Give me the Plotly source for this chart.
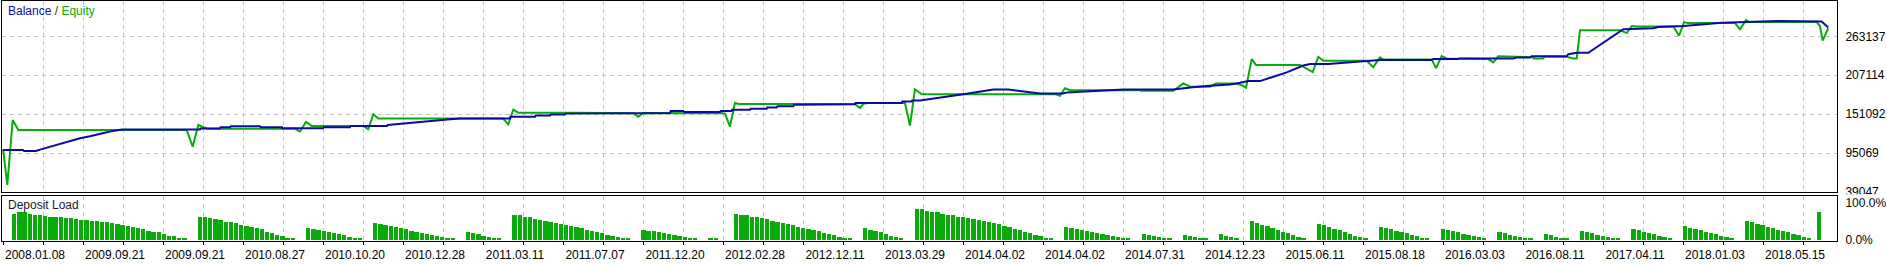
import plotly.graph_objects as go

# ---------------- data ----------------
date_labels = ["2008.01.08", "2009.09.21", "2009.09.21", "2010.08.27", "2010.10.20",
               "2010.12.28", "2011.03.11", "2011.07.07", "2011.12.20", "2012.02.28",
               "2012.12.11", "2013.03.29", "2014.04.02", "2014.04.02", "2014.07.31",
               "2014.12.23", "2015.06.11", "2015.08.18", "2016.03.03", "2016.08.11",
               "2017.04.11", "2018.01.03", "2018.05.15"]
y_ticks = [39047, 95069, 151092, 207114, 263137]

balance_x = [-2.25, 1.69, 1.9, 4.21, 4.98, 6.92, 8.86, 10.80, 12.74, 14.68, 16.62, 18.56, 20.88,
             36.01, 36.1, 39.88, 40.0, 41.83, 42.0, 47.64, 47.8, 51.91, 52.0, 59.86, 60.0, 65.10,
             65.2, 72.27, 72.4, 74.79, 77.31, 81.19, 84.0, 86.43, 96.12, 96.2, 100.97, 101.1,
             103.88, 104.0, 106.78, 106.9, 108.72, 108.8, 127.15, 127.3, 129.73, 129.9, 136.84,
             137.0, 139.11, 139.2, 142.66, 142.8, 145.90, 146.0, 147.84, 148.0, 151.06, 151.2,
             153.66, 153.8, 163.02, 163.1, 172.07, 172.2, 174.01, 174.1, 175.62, 184.02, 186.93,
             189.84, 192.74, 194.37, 196.95, 198.89, 203.35, 204.07, 207.29, 209.89, 212.80,
             215.05, 224.74, 226.04, 228.95, 231.86, 235.74, 237.68, 239.29, 241.56, 243.50,
             246.74, 249.95, 251.25, 254.80, 258.04, 261.91, 264.82, 274.85, 275.16, 280.01,
             280.34, 290.67, 291.33, 293.91, 294.24, 301.03, 301.34, 302.97, 305.22, 312.01,
             317.83, 318.80, 323.65, 328.81, 331.08, 342.05, 346.90, 350.47, 351.74]
balance_y = [99691, 99691, 98291, 98291, 100111, 104313, 107674, 111876, 116498, 119299, 123081,
             126302, 129103, 129103, 130504, 130504, 132324, 132324, 133725, 133725, 132324,
             132324, 130924, 130924, 132324, 132324, 134285, 134285, 135686, 137506, 139327,
             141708, 143529, 144929, 144929, 147310, 147310, 149131, 149131, 150532, 150532,
             151932, 151932, 152913, 152913, 155714, 155714, 154313, 154313, 155714, 155714,
             157534, 157534, 158935, 158935, 160896, 160896, 162716, 162716, 164537, 164537,
             165518, 165518, 167338, 167338, 169299, 169299, 170700, 170700, 179943, 183305,
             186526, 186526, 184705, 182744, 180924, 180924, 182324, 183305, 184145, 185125,
             186526, 186526, 187927, 190307, 192128, 193949, 196330, 198711, 198711, 203753,
             211316, 221120, 223361, 223361, 225321, 227562, 228963, 228963, 230363, 230363,
             231344, 231344, 232744, 232744, 234565, 234565, 237366, 239327, 239327, 273361,
             274761, 276582, 277983, 281344, 282744, 284985, 284145, 284565, 275742]

equity_x = [-2.25, -2.13, -1.36, -0.83, -0.31, 0.78, 33.43, 34.59, 35.68, 36.65, 37.5, 54.43,
            55.40, 56.56, 57.67, 67.62, 68.64, 69.61, 70.58, 94.77, 95.79, 96.76, 97.73, 108.72,
            119.97, 121.00, 121.97, 137.43, 137.81, 138.78, 139.75, 140.5, 163.02, 163.99,
            164.63, 165.5, 172.71, 173.68, 174.65, 175.49, 176.0, 201.80, 202.77, 203.74,
            204.71, 218.29, 218.5, 224.74, 226.68, 227.98, 231.86, 233.0, 236.5, 237.68, 238.84,
            239.95, 240.78, 249.32, 251.77, 252.86, 253.83, 262.24, 263.52, 264.82, 265.46,
            274.85, 275.68, 276.79, 277.76, 285.83, 286.79, 287.76, 294.55, 294.6, 296.5, 296.6,
            301.03, 302.31, 302.97, 303.61, 311.37, 312.67, 313.64, 314.5, 321.71, 322.81,
            323.78, 324.5, 333.66, 334.63, 335.79, 336.5, 349.50, 350.14, 350.66, 351.74]
equity_y = [99691, 98291, 49271, 101092, 142688, 128400, 128400, 104313, 135686, 132324, 130083,
            130083, 126302, 139887, 134285, 134285, 129523, 151092, 144929, 144929, 136526,
            157534, 153333, 153333, 152600, 147310, 152913, 152500, 151932, 133305, 167338,
            165938, 165938, 159915, 165938, 167338, 167338, 134705, 186946, 182324, 179943,
            179943, 177702, 188347, 185546, 185546, 184705, 184705, 195349, 190728, 190728,
            195349, 195349, 193949, 189327, 230363, 221960, 221960, 211736, 233725, 228123,
            228123, 218739, 232744, 229943, 229943, 217338, 234565, 231344, 230363, 225742,
            234565, 233165, 231344, 231344, 233725, 233725, 231344, 231344, 271960, 271960,
            267758, 277983, 277142, 277142, 263977, 283585, 282184, 282184, 273361, 286386,
            283585, 283585, 277983, 256974, 274761]

# deposit load (%) : groups of consecutive deals, each starting at a deal index
load_starts = [0, 36, 57, 70, 88, 97, 122, 135, 140, 165, 175, 204, 219, 227, 234, 240, 253,
               265, 277, 288, 297, 304, 314, 324, 336, 350]
load_groups = [
    [71, 76, 74, 71, 67, 66, 64, 63, 61, 61, 59, 58, 56, 54, 53, 51, 50, 48, 47, 46, 43, 40,
     38, 35, 32, 29, 25, 22, 20, 17, 11, 9, 5, 3],
    [61, 61, 59, 56, 54, 49, 47, 45, 41, 38, 35, 32, 28, 21, 18, 14, 11, 5, 3],
    [32, 29, 26, 24, 21, 18, 16, 13, 8, 5, 3],
    [45, 42, 39, 37, 34, 32, 29, 24, 21, 18, 16, 13, 11, 8, 5, 3],
    [21, 18, 16, 11, 8, 5, 3],
    [66, 66, 63, 61, 55, 53, 50, 47, 45, 42, 39, 37, 34, 32, 26, 24, 21, 18, 13, 11, 8, 5, 3],
    [26, 24, 24, 21, 18, 16, 13, 11, 8, 5, 3],
    [5, 5],
    [71, 68, 66, 63, 61, 58, 55, 50, 47, 45, 42, 39, 34, 32, 29, 26, 24, 18, 16, 13, 8, 5, 3],
    [32, 26, 24, 21, 16, 11, 8, 3],
    [82, 82, 79, 76, 74, 71, 68, 66, 63, 61, 58, 55, 53, 50, 47, 45, 42, 37, 34, 29, 26, 21,
     18, 13, 11, 5, 3],
    [34, 32, 29, 26, 24, 21, 18, 16, 13, 11, 8, 5, 3],
    [16, 13, 11, 8, 5, 3],
    [13, 11, 8, 5, 3],
    [16, 11, 8, 3],
    [50, 45, 39, 37, 32, 26, 21, 18, 13, 8, 3],
    [42, 39, 34, 29, 26, 21, 16, 11, 8, 3],
    [34, 32, 29, 24, 21, 18, 13, 11, 5, 3],
    [29, 26, 24, 21, 16, 13, 11, 8, 3],
    [21, 18, 13, 11, 8, 5, 3],
    [16, 13, 8, 5, 3],
    [24, 21, 18, 13, 11, 8, 5, 3],
    [29, 26, 21, 18, 16, 11, 8, 3],
    [37, 32, 29, 26, 21, 18, 16, 11, 8, 3],
    [50, 47, 42, 39, 34, 32, 26, 24, 21, 16, 13, 8, 3],
    [74],
]

# ---------------- geometry (pixels) ----------------
W, H = 1887, 266
PLOT_L, PLOT_R = 2, 1837
MAIN_T, MAIN_B = 1, 197.3
LOW_T, LOW_B = 201, 247
LOW_ZERO, LOW_HUNDRED = 246, 208
SLOT0_PX, SLOT_PX = 14.3, 5.157

FONT = "Liberation Sans"
BLUE = "#0a0aaa"
GREEN = "#0aaa0a"
GRID = "#c4c4c4"


def px2s(px):
    return (px - SLOT0_PX) / SLOT_PX


def fy(p):
    return 1 - p / H


x_range = [px2s(PLOT_L), px2s(PLOT_R)]
grid_vals = [px2s(3 + 40 * k) for k in range(46)]
grid_text = [date_labels[k // 2] if k % 2 == 0 else "" for k in range(46)]

per_px = (y_ticks[1] - y_ticks[0]) / 40.0
main_range = [y_ticks[0], y_ticks[0] + (MAIN_B - MAIN_T) * per_px]
pct_per_px = 100.0 / (LOW_ZERO - LOW_HUNDRED)
low_range = [-(LOW_B - LOW_ZERO) * pct_per_px, (LOW_ZERO - LOW_T) * pct_per_px]

bar_x, bar_y = [], []
for st, vals in zip(load_starts, load_groups):
    for i, v in enumerate(vals):
        bar_x.append(st + i)
        bar_y.append(v)

fig = go.Figure()
fig.add_trace(go.Bar(x=bar_x, y=bar_y, width=0.83, marker=dict(color=GREEN, line=dict(width=0)),
                     xaxis="x2", yaxis="y2", hoverinfo="skip"))
fig.add_trace(go.Scatter(x=equity_x, y=equity_y, mode="lines", line=dict(color=GREEN, width=2),
                         xaxis="x", yaxis="y", hoverinfo="skip"))
fig.add_trace(go.Scatter(x=balance_x, y=balance_y, mode="lines", line=dict(color=BLUE, width=2),
                         xaxis="x", yaxis="y", hoverinfo="skip"))

xdom = [PLOT_L / W, PLOT_R / W]
common_x = dict(range=x_range, domain=xdom, tickmode="array", tickvals=grid_vals,
                showgrid=True, gridcolor=GRID, griddash="4px,4px", gridwidth=1,
                zeroline=False, showline=True, mirror=True, linecolor="black", linewidth=1)

fig.update_layout(
    width=W, height=H, margin=dict(l=0, r=0, t=0, b=0),
    paper_bgcolor="white", plot_bgcolor="white", showlegend=False,
    font=dict(family=FONT, size=12, color="black"),
    bargap=0,
    xaxis=dict(**common_x, anchor="y", ticktext=[""] * len(grid_vals), showticklabels=False,
               ticks=""),
    yaxis=dict(domain=[fy(MAIN_B), fy(MAIN_T)], range=main_range, anchor="x", side="right",
               tickmode="array", tickvals=y_ticks, ticktext=[str(v) for v in y_ticks],
               showgrid=True, gridcolor=GRID, griddash="4px,4px", gridwidth=1,
               zeroline=False, showline=True, mirror=True, linecolor="black", linewidth=1,
               ticks="", ticklabelstandoff=5, tickfont=dict(size=12, color="black")),
    xaxis2=dict(**common_x, anchor="y2", ticktext=grid_text, ticks="outside", ticklen=3,
                tickcolor="black", ticklabelshift=32, tickangle=0,
                tickfont=dict(size=12, color="black")),
    yaxis2=dict(domain=[fy(LOW_B), fy(LOW_T)], range=low_range, anchor="x2", side="right",
                tickmode="array", tickvals=[0, 100], ticktext=["0.0%", "100.0%"],
                showgrid=False, zeroline=False, showline=True, mirror=True,
                linecolor="black", linewidth=1, ticks="", ticklabelstandoff=5,
                tickfont=dict(size=12, color="black")),
    shapes=[dict(type="rect", xref="paper", yref="paper", x0=1839 / W, x1=1.0,
                 y0=fy(203.5), y1=fy(199.6), fillcolor="white", line=dict(width=0),
                 layer="above")],
    annotations=[
        dict(xref="paper", yref="paper", x=6 / W, y=fy(11.5), xanchor="left", yanchor="middle",
             showarrow=False,
             text="<span style='color:%s'>Balance</span><span style='color:#303030'> / </span>"
                  "<span style='color:%s'>Equity</span>" % (BLUE, GREEN),
             font=dict(family=FONT, size=12)),
        dict(xref="paper", yref="paper", x=6 / W, y=fy(210.5), xanchor="left", yanchor="middle",
             showarrow=False, text="Deposit Load", font=dict(family=FONT, size=12, color="#1a1a30")),
    ],
)

fig.write_html("out.html")
